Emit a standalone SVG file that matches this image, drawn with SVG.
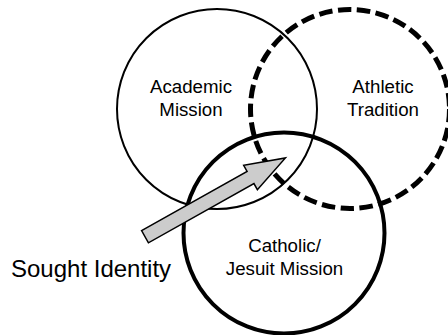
<svg xmlns="http://www.w3.org/2000/svg" width="448" height="335" viewBox="0 0 448 335">
<style>
.lbl{font-family:"Liberation Sans",Arial,sans-serif;font-size:18.7px;fill:#000;text-anchor:middle}
.big{font-family:"Liberation Sans",Arial,sans-serif;font-size:24px;fill:#000}
.c{fill:none;stroke:#000}
</style>
<rect width="448" height="335" fill="#fff"/>
<g id="academic">
<circle class="c" cx="217" cy="109" r="100" stroke-width="2"/>
<text class="lbl" x="191" y="93">Academic</text>
<text class="lbl" x="191" y="115.5">Mission</text>
</g>
<g id="athletic">
<circle class="c" cx="350" cy="109" r="99.5" stroke-width="5" stroke-dasharray="13.5 5.5"/>
<text class="lbl" x="383" y="93">Athletic</text>
<text class="lbl" x="383" y="115.5">Tradition</text>
</g>
<g id="catholic">
<circle class="c" cx="284" cy="233" r="100.5" stroke-width="4"/>
<text class="lbl" x="284.5" y="252">Catholic/</text>
<text class="lbl" x="284.5" y="275">Jesuit Mission</text>
</g>
<g id="connectors">
<polygon transform="translate(145,236.7) rotate(-29.3)" points="0,-7 121,-7 121,-14 161,0 121,14 121,7 0,7" fill="#cccccc" stroke="#000" stroke-width="1.5" stroke-linejoin="miter"/>
</g>
<g id="sought">
<text class="big" x="11" y="276.5">Sought Identity</text>
</g>
</svg>
